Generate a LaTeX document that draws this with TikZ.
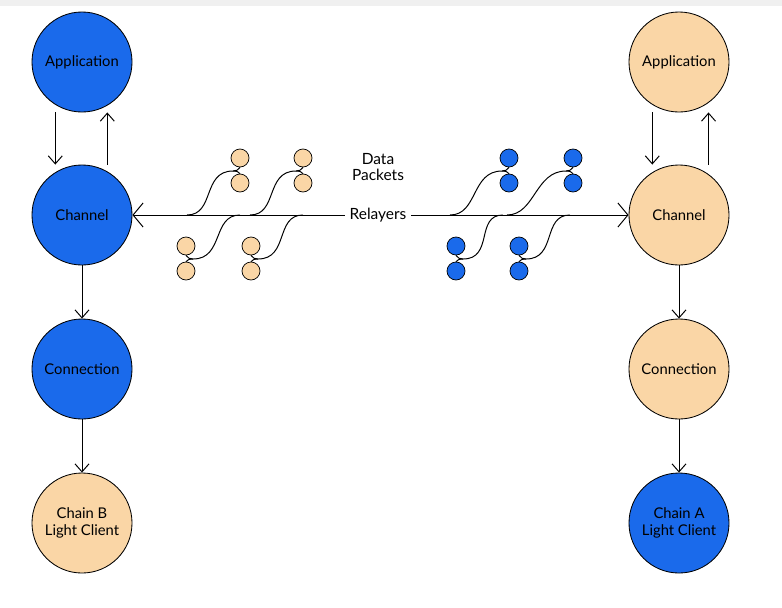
\documentclass[tikz,border=0pt]{standalone}
\usepackage{fontspec}
\setmainfont{Lato}
\usetikzlibrary{arrows.meta}
\definecolor{ibcblue}{HTML}{1A6AEB}
\definecolor{ibcpeach}{HTML}{FAD6A6}
\tikzstyle{layer} = [circle, minimum size=2.5cm, draw=black, line width=0.6pt, text centered, align=center, font=\fontsize{10.5}{12}\selectfont]
\tikzstyle{blue_layer} = [layer, fill=ibcblue]
\tikzstyle{peach_layer} = [layer, fill=ibcpeach]
\tikzstyle{packet} = [circle, minimum size=0.45cm, inner sep=0pt, draw=black, line width=0.5pt]
\tikzstyle{line} = [draw, line width=0.7pt, -{Straight Barb[length=2mm,width=3.5mm]}]
\tikzstyle{relay} = [draw, line width=0.7pt, -{Straight Barb[length=2.5mm,width=6mm]}]
\tikzstyle{wire} = [draw, line width=0.7pt]

\begin{document}
\begin{tikzpicture}[x=0.025cm, y=-0.025cm]
            \useasboundingbox (0,0) rectangle (782,607);
            \fill[black!6] (0,0) rectangle (782,6);
            % Left chain
            \node (appB) [blue_layer] at (82,62) {Application};
            \node (chanB) [blue_layer] at (82,215) {Channel};
            \node (connB) [blue_layer] at (82,369) {Connection};
            \node (clientB) [peach_layer] at (82,523) {Chain B\\Light Client};

            % Right chain
            \node (appA) [peach_layer] at (679,62) {Application};
            \node (chanA) [peach_layer] at (679,215) {Channel};
            \node (connA) [peach_layer] at (679,369) {Connection};
            \node (clientA) [blue_layer] at (679,523) {Chain A\\Light Client};

            % Relayer labels
            \node (relay) [font=\fontsize{11}{13}\selectfont] at (378,215) {Relayers};
            \node (data) [font=\fontsize{11}{11}\selectfont, align=center] at (378,167) {Data\\Packets};

            % Draw lines
            \path [line] ([xshift=-19]appB.south) -- ([xshift=-19]chanB.north);
            \path [line] ([xshift=18]chanB.north) -- ([xshift=18]appB.south);
            \path [line] (chanB) -- (connB);
            \path [line] (connB) -- (clientB);
            \path [line] ([xshift=-19]appA.south) -- ([xshift=-19]chanA.north);
            \path [line] ([xshift=21]chanA.north) -- ([xshift=21]appA.south);
            \path [line] (chanA) -- (connA);
            \path [line] (connA) -- (clientA);
            \path [relay] (relay.west) -- (chanB);
            \path [relay] (relay.east) -- (chanA);

            % Packets above the line
            \foreach \cx/\sx/\col [count=\i] in {240/187/ibcpeach, 303/250/ibcpeach, 509/450/ibcblue, 573/507/ibcblue} {
                \node (up\i a) [packet, fill=\col] at (\cx,158) {};
                \node (up\i b) [packet, fill=\col] at (\cx,183) {};
                \path [wire] (\sx,215) .. controls (\sx+28,215) and (\cx-38,171) .. (\cx-7,171)
                    to[out=0, in=-120] (up\i a.south);
                \path [wire] (\cx-7,171) to[out=0, in=120] (up\i b.north);
            }
            % Packets below the line
            \foreach \cx/\sx/\col [count=\i] in {186/240/ibcpeach, 251/303/ibcpeach, 456/503/ibcblue, 519/570/ibcblue} {
                \node (dn\i a) [packet, fill=\col] at (\cx,246) {};
                \node (dn\i b) [packet, fill=\col] at (\cx,271) {};
                \path [wire] (\sx,215) .. controls (\sx-28,215) and (\cx+38,259) .. (\cx+7,259)
                    to[out=180, in=-60] (dn\i a.south);
                \path [wire] (\cx+7,259) to[out=180, in=60] (dn\i b.north);
            }
\end{tikzpicture}
\end{document}
